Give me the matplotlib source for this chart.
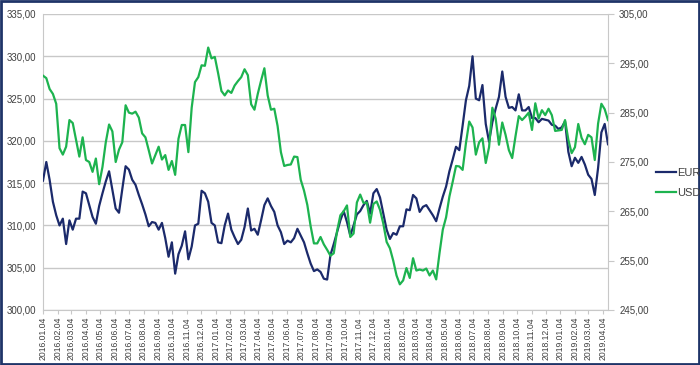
import matplotlib
matplotlib.use("Agg")
import matplotlib.pyplot as plt
from matplotlib.patches import Rectangle
import pandas as pd

plt.rcParams['font.family'] = ['Liberation Sans Narrow', 'Liberation Sans', 'DejaVu Sans']

# weekly observations starting 2016-01-04
dates = pd.date_range("2016-01-04", periods=172, freq="7D")

eur = [
    315.3, 317.5, 315.4, 312.8, 311.2, 310.0, 310.8, 307.8, 310.6, 309.5,
    310.8, 310.8, 314.0, 313.8, 312.4, 311.0, 310.2, 312.3, 313.8, 315.2,
    316.4, 314.2, 312.0, 311.5, 314.3, 317.0, 316.6, 315.4, 314.8, 313.6,
    312.5, 311.3, 309.9, 310.4, 310.3, 309.5, 310.3, 308.5, 306.3, 308.0,
    304.3, 306.6, 307.6, 309.3, 306.0, 307.5, 310.0, 310.2, 314.1, 313.8,
    312.8, 310.3, 310.0, 308.0, 307.9, 310.0, 311.4, 309.5, 308.6, 307.8,
    308.3, 309.8, 312.0, 309.4, 309.6, 308.9, 310.6, 312.4, 313.2, 312.3,
    311.6, 310.0, 309.2, 307.8, 308.2, 308.0, 308.5, 309.6, 308.8, 308.0,
    306.7, 305.5, 304.6, 304.8, 304.5, 303.7, 303.6, 306.5, 307.8, 309.2,
    310.6, 311.7, 310.4, 308.8, 310.0, 311.3, 311.7, 312.4, 312.9, 311.4,
    313.8, 314.3, 313.3, 311.4, 309.5, 308.4, 309.1, 308.9, 309.9, 309.9,
    311.9, 311.8, 313.6, 313.2, 311.6, 312.2, 312.4, 311.8, 311.2, 310.5,
    312.0, 313.4, 314.6, 316.4, 317.8, 319.3, 318.9, 321.8, 324.8, 326.5,
    330.0, 325.0, 324.8, 326.6, 322.0, 319.9, 322.2, 323.8, 325.2, 328.2,
    325.2, 323.9, 324.0, 323.6, 325.5, 323.6, 323.6, 324.0, 322.7, 322.7,
    322.2, 322.6, 322.5, 322.4, 321.9, 321.8, 321.4, 321.6, 322.3, 318.7,
    317.0, 318.0, 317.4, 318.1, 317.2, 316.0, 315.5, 313.6, 316.8, 321.0,
    322.0, 319.6,
]

usd = [
    292.5, 292.0, 289.8, 288.8, 286.8, 277.8, 276.5, 278.1, 283.5, 282.9,
    279.5, 276.1, 280.0, 275.4, 275.0, 273.0, 275.7, 270.5, 274.0, 279.0,
    282.6, 281.2, 275.0, 277.5, 279.0, 286.5, 285.0, 284.8, 285.2, 284.0,
    280.8, 280.0, 277.4, 274.7, 276.4, 278.1, 275.5, 276.4, 273.4, 275.2,
    272.4, 279.7, 282.5, 282.5, 277.0, 286.0, 291.2, 292.2, 294.6, 294.5,
    298.2, 296.0, 296.3, 293.0, 289.4, 288.5, 289.5, 289.0, 290.5, 291.4,
    292.2, 293.8, 292.6, 286.7, 285.6, 288.8, 291.5, 294.0, 288.5, 285.6,
    285.8, 282.3, 277.0, 274.2, 274.4, 274.5, 276.1, 276.0, 271.4, 269.2,
    266.3, 262.0, 258.5, 258.5, 259.8, 258.3, 257.2, 256.0, 256.5, 261.0,
    264.2, 265.0, 266.2, 259.8, 260.5, 266.8, 268.4, 266.7, 266.8, 262.7,
    266.5, 267.0, 265.3, 262.5, 258.8, 257.5, 255.0, 252.0, 250.2, 251.0,
    253.5, 251.5, 255.5, 253.0, 253.2, 253.0, 253.4, 252.0, 253.0, 251.2,
    256.5, 261.3, 263.8, 268.0, 271.0, 274.2, 274.1, 273.4, 278.8, 283.2,
    282.0, 276.5, 279.0, 279.8, 274.8, 278.0, 286.0, 283.8, 278.5, 283.0,
    280.5, 277.4, 275.8, 280.2, 284.3, 283.5, 284.2, 285.0, 281.5, 286.9,
    283.8, 285.5, 284.5, 285.8, 284.5, 281.3, 281.4, 281.5, 283.5, 279.5,
    276.8, 278.0, 282.7, 279.9, 278.6, 280.5, 280.0, 275.4, 282.8, 286.8,
    285.7, 283.5,
]

eur_ticks = [300, 305, 310, 315, 320, 325, 330, 335]
usd_ticks = [245, 255, 265, 275, 285, 295, 305]
month_ticks = pd.date_range("2016-01-04", "2019-04-04", freq=pd.DateOffset(months=1))

NAVY = "#1b2a6b"
GREEN = "#1db34f"
GRID = "#c8c8c8"
TXT = "#404040"

fig = plt.figure(figsize=(7.0, 3.65), dpi=100)
ax = fig.add_axes([43/700, 1-310/365, (608-43)/700, (310-14)/365])
ax2 = ax.twinx()

ax.plot(dates, eur, color=NAVY, lw=1.6, label="EUR", zorder=3)
ax2.plot(dates, usd, color=GREEN, lw=1.6, label="USD", zorder=3)

ax.set_ylim(300, 335)
ax2.set_ylim(245, 305)
ax.set_yticks(eur_ticks)
ax2.set_yticks(usd_ticks)
fmt = lambda v, p: f"{v:.2f}".replace(".", ",")
ax.yaxis.set_major_formatter(plt.FuncFormatter(fmt))
ax2.yaxis.set_major_formatter(plt.FuncFormatter(fmt))

ax.set_xlim(pd.Timestamp("2016-01-04"), pd.Timestamp("2019-04-15"))
ax.set_xticks(month_ticks)
ax.set_xticklabels([d.strftime("%Y.%m.%d") for d in month_ticks], rotation=90,
                   fontsize=6.2, color=TXT)

ax.grid(axis="y", color=GRID, lw=1.0)
ax.set_axisbelow(True)
for a in (ax, ax2):
    a.spines["top"].set_visible(False)
ax.spines["left"].set_color(GRID)
ax.spines["bottom"].set_color(GRID)
ax.spines["right"].set_visible(False)
ax2.spines["left"].set_visible(False)
ax2.spines["bottom"].set_visible(False)
ax2.spines["right"].set_color(GRID)

ax.tick_params(axis="y", length=0, labelsize=7, labelcolor=TXT, pad=5)
ax2.tick_params(axis="y", length=4, color=GRID, labelsize=7, labelcolor=TXT, pad=4)
ax.tick_params(axis="x", length=3, color=GRID, pad=2)

h1, l1 = ax.get_legend_handles_labels()
h2, l2 = ax2.get_legend_handles_labels()
fig.legend(h1 + h2, l1 + l2, loc="center left", bbox_to_anchor=(646/700, 1-183/365),
           frameon=False, fontsize=8, handlelength=1.8, handletextpad=0.1,
           labelspacing=0.9, labelcolor=TXT)

fig.patches.append(Rectangle((0.002, 0.003), 0.996, 0.994, transform=fig.transFigure,
                             fill=False, edgecolor="#1f3468", lw=2.0))

fig.savefig("out.png", dpi=100)
